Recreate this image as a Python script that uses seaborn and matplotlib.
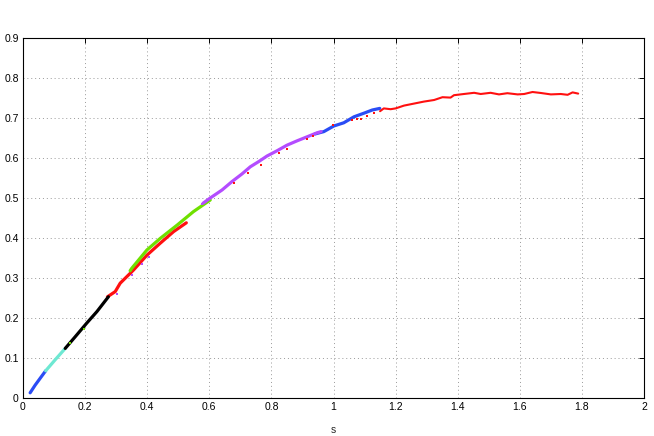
import pandas as pd
import seaborn as sns
import matplotlib
matplotlib.use("Agg")
import matplotlib.pyplot as plt

# curve segments (s, value)
blue_lo_s = [0.023, 0.039, 0.055, 0.073]
blue_lo_v = [0.013, 0.032, 0.049, 0.068]
cyan_s = [0.073, 0.103, 0.136]
cyan_v = [0.068, 0.095, 0.124]
black_s = [0.136, 0.168, 0.205, 0.238, 0.275]
black_v = [0.124, 0.153, 0.187, 0.216, 0.253]
red_lo_s = [0.272, 0.297, 0.313, 0.356, 0.399, 0.442, 0.485, 0.526]
red_lo_v = [0.253, 0.266, 0.287, 0.320, 0.357, 0.387, 0.416, 0.438]
green_s = [0.345, 0.35, 0.399, 0.442, 0.496, 0.549, 0.603]
green_v = [0.318, 0.324, 0.370, 0.399, 0.432, 0.466, 0.495]
blue_hi_s = [0.94, 0.969, 1.001, 1.033, 1.066, 1.098, 1.125, 1.149]
blue_hi_v = [0.660, 0.666, 0.680, 0.688, 0.703, 0.712, 0.720, 0.724]
purple_s = [0.58, 0.603, 0.641, 0.673, 0.705, 0.732, 0.759, 0.786, 0.818,
            0.85, 0.883, 0.915, 0.947, 0.96]
purple_v = [0.487, 0.500, 0.520, 0.541, 0.560, 0.578, 0.591, 0.605, 0.618,
            0.632, 0.643, 0.653, 0.663, 0.666]
red_hi_s = [1.15, 1.162, 1.184, 1.2, 1.227, 1.259, 1.291, 1.324, 1.351, 1.377,
            1.388, 1.42, 1.453, 1.474, 1.506, 1.533, 1.56, 1.593, 1.614, 1.641,
            1.668, 1.7, 1.732, 1.754, 1.77, 1.788]
red_hi_v = [0.717, 0.724, 0.722, 0.724, 0.731, 0.736, 0.741, 0.745, 0.752, 0.751,
            0.757, 0.760, 0.763, 0.760, 0.763, 0.759, 0.762, 0.759, 0.760, 0.765,
            0.7625, 0.759, 0.760, 0.758, 0.764, 0.761]

# stray points
red_dots_s = [0.678, 0.724, 0.765, 0.824, 0.85, 0.915, 0.934, 0.999, 1.06,
              1.076, 1.09, 1.108, 1.13]
red_dots_v = [0.538, 0.563, 0.582, 0.612, 0.623, 0.648, 0.655, 0.683, 0.695,
              0.697, 0.698, 0.706, 0.712]
purple_dots_s = [0.302, 0.35, 0.383, 0.406, 0.576]
purple_dots_v = [0.259, 0.307, 0.335, 0.352, 0.485]
green_dots_s = [0.152, 0.195]
green_dots_v = [0.137, 0.172]

xticks = [0, 0.2, 0.4, 0.6, 0.8, 1.0, 1.2, 1.4, 1.6, 1.8, 2.0]
xticklabels = ['0', '0.2', '0.4', '0.6', '0.8', '1', '1.2', '1.4', '1.6', '1.8', '2']
yticks = [0, 0.1, 0.2, 0.3, 0.4, 0.5, 0.6, 0.7, 0.8, 0.9]
yticklabels = ['0', '0.1', '0.2', '0.3', '0.4', '0.5', '0.6', '0.7', '0.8', '0.9']

BLUE = '#2a4cf5'
CYAN = '#6ee8d2'
RED = '#ff1010'
GREEN = '#6fe000'
PURPLE = '#b44cff'

sns.set_style("white")
plt.rcParams['font.family'] = ['Liberation Sans', 'DejaVu Sans']

fig = plt.figure(figsize=(6.54, 4.36), dpi=100)
ax = fig.add_axes([23/654, 1 - 398/436, (644 - 23)/654, (398 - 38)/436])

# draw order matters: later segments sit on top
segments = [
    (red_lo_s, red_lo_v, RED, 2.3),
    (green_s, green_v, GREEN, 2.3),
    (blue_lo_s, blue_lo_v, BLUE, 2.3),
    (cyan_s, cyan_v, CYAN, 2.3),
    (black_s, black_v, 'black', 2.3),
    (blue_hi_s, blue_hi_v, BLUE, 2.3),
    (purple_s, purple_v, PURPLE, 2.3),
    (red_hi_s, red_hi_v, RED, 1.5),
]
for xs, ys, col, lw in segments:
    df = pd.DataFrame({'s': xs, 'v': ys})
    sns.lineplot(data=df, x='s', y='v', color=col, linewidth=lw, sort=False,
                 estimator=None, ax=ax, solid_capstyle='round')

dots = [
    (red_dots_s, red_dots_v, RED),
    (purple_dots_s, purple_dots_v, PURPLE),
    (green_dots_s, green_dots_v, GREEN),
]
for xs, ys, col in dots:
    df = pd.DataFrame({'s': xs, 'v': ys})
    sns.scatterplot(data=df, x='s', y='v', color=col, s=4, marker='s',
                    linewidth=0, ax=ax, zorder=4)

ax.set_xlim(0, 2)
ax.set_ylim(0, 0.9)
ax.set_xticks(xticks)
ax.set_xticklabels(xticklabels)
ax.set_yticks(yticks)
ax.set_yticklabels(yticklabels)
ax.set_xlabel('s', fontsize=7.5, labelpad=9)
ax.set_ylabel('')

ax.grid(True, color='#999999', linestyle=(0, (1, 3)), linewidth=0.7)
ax.tick_params(direction='in', length=3.5, width=0.7, top=True, right=True,
               labelsize=7.5, pad=3, colors='black')
for sp in ax.spines.values():
    sp.set_visible(True)
    sp.set_color('black')
    sp.set_linewidth(0.8)

fig.savefig('out.png', dpi=100)
